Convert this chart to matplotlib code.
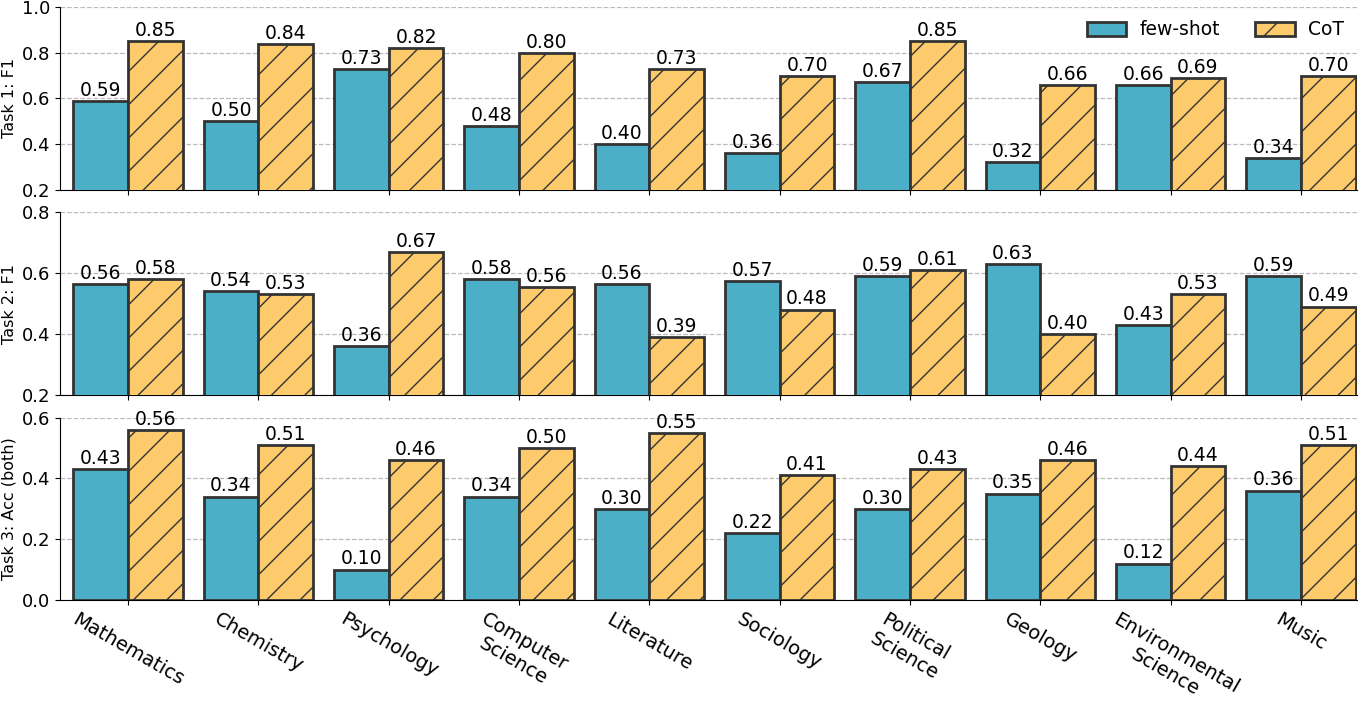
import matplotlib
matplotlib.use("Agg")
import matplotlib.pyplot as plt
import numpy as np

categories = ["Mathematics", "Chemistry", "Psychology", "Computer\nScience", "Literature",
              "Sociology", "Political\nScience", "Geology", "Environmental\nScience", "Music"]
task1_few = [0.59, 0.50, 0.73, 0.48, 0.40, 0.36, 0.67, 0.32, 0.66, 0.34]
task1_cot = [0.85, 0.84, 0.82, 0.80, 0.73, 0.70, 0.85, 0.66, 0.69, 0.70]
task2_few = [0.565, 0.54, 0.36, 0.58, 0.565, 0.575, 0.59, 0.63, 0.43, 0.59]
task2_cot = [0.58, 0.53, 0.67, 0.555, 0.39, 0.48, 0.61, 0.40, 0.53, 0.49]
task3_few = [0.43, 0.34, 0.10, 0.34, 0.30, 0.22, 0.30, 0.35, 0.12, 0.36]
task3_cot = [0.56, 0.51, 0.46, 0.50, 0.55, 0.41, 0.43, 0.46, 0.44, 0.51]
ylabels = ["Task 1: F1", "Task 2: F1", "Task 3: Acc (both)"]
ylims = [(0.2, 1.0), (0.2, 0.8), (0.0, 0.6)]
series_names = ["few-shot", "CoT"]

plt.rcParams['hatch.color'] = '#333333'
plt.rcParams['hatch.linewidth'] = 1.0

fig, axes = plt.subplots(3, 1, figsize=(13.7, 7.16), dpi=100, sharex=True)
fig.subplots_adjust(left=0.044, right=0.9905, top=0.99, bottom=0.162, hspace=0.125)

x = np.arange(len(categories))
w = 0.42
data = [(task1_few, task1_cot), (task2_few, task2_cot), (task3_few, task3_cot)]
c_few = '#4BAFC8'
c_cot = '#FDCB6B'
edge = '#333333'

for i, ax in enumerate(axes):
    few, cot = data[i]
    b1 = ax.bar(x - w / 2, few, w, color=c_few, edgecolor=edge, linewidth=2, label=series_names[0], zorder=3)
    b2 = ax.bar(x + w / 2, cot, w, color=c_cot, edgecolor=edge, linewidth=2, hatch='/', label=series_names[1], zorder=3)
    for bars, vals in ((b1, few), (b2, cot)):
        for r, v in zip(bars, vals):
            ax.text(r.get_x() + r.get_width() / 2, v + 0.004, f"{v:.2f}", ha='center', va='bottom', fontsize=13.5, zorder=4)
    ax.set_ylim(*ylims[i])
    lo, hi = ylims[i]
    ax.set_yticks(np.arange(lo, hi + 0.001, 0.2))
    ax.yaxis.set_major_formatter(matplotlib.ticker.FormatStrFormatter('%.1f'))
    ax.set_ylabel(ylabels[i], fontsize=11.5)
    ax.grid(axis='y', linestyle='--', color='#bbbbbb', linewidth=0.9, zorder=0)
    ax.spines['top'].set_visible(False)
    ax.spines['right'].set_visible(False)
    ax.tick_params(axis='y', labelsize=13)
    ax.tick_params(axis='x', labelsize=13)
    ax.set_xlim(-0.52, 9.43)

axes[0].legend(loc='upper right', ncol=2, frameon=False, fontsize=13.5, handlelength=2.1,
               handleheight=0.8, handletextpad=0.7, columnspacing=1.9,
               bbox_to_anchor=(1.0, 1.0), borderaxespad=0.3)
axes[2].set_xticks(x)
axes[2].set_xticklabels(categories, rotation=-30, ha='center', fontsize=14)

fig.savefig("out.png", dpi=100)
